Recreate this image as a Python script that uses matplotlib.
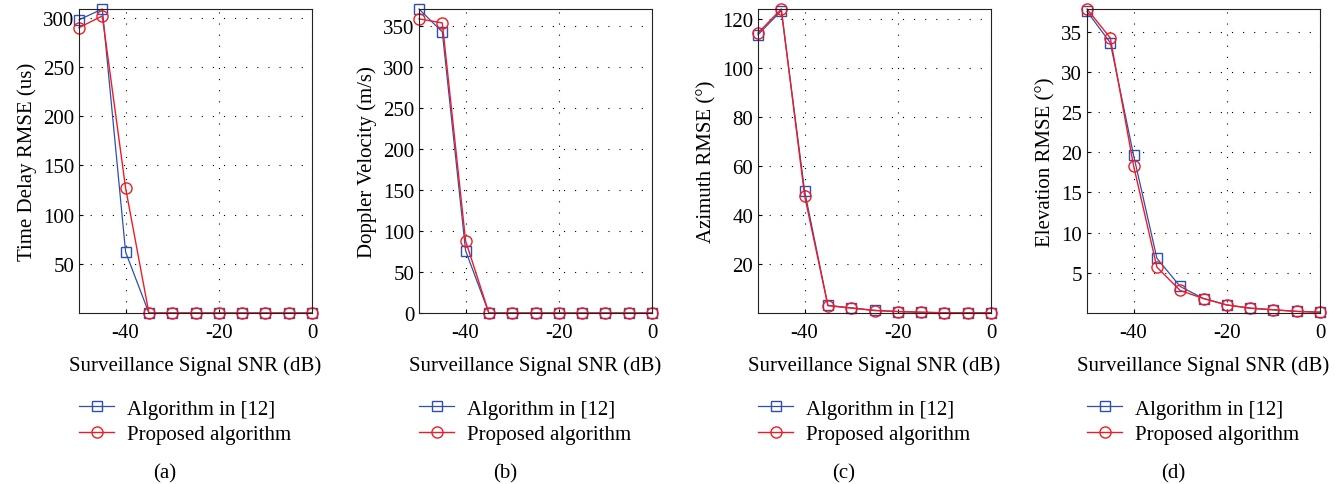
import matplotlib
matplotlib.use("Agg")
import matplotlib.pyplot as plt

plt.rcParams['font.family'] = ['Liberation Serif', 'DejaVu Serif']
plt.rcParams['font.size'] = 15
plt.rcParams['axes.unicode_minus'] = False

snr = [-50, -45, -40, -35, -30, -25, -20, -15, -10, -5, 0]

# (a) time delay RMSE
delay_ref = [298, 309, 62, 0, 0, 0, 0, 0, 0, 0, 0]
delay_prop = [290, 302, 127, 0, 0, 0, 0, 0, 0, 0, 0]
# (b) doppler velocity
dopp_ref = [371, 343, 76, 0, 0, 0, 0, 0, 0, 0, 0]
dopp_prop = [359, 354, 88, 0, 0, 0, 0, 0, 0, 0, 0]
# (c) azimuth RMSE
azi_ref = [113.5, 123.3, 49.8, 3.1, 2.1, 1.1, 0.6, 0.3, 0.1, 0.1, 0.1]
azi_prop = [114.2, 124.0, 47.8, 3.0, 2.0, 1.0, 0.6, 0.3, 0.1, 0.1, 0.1]
# (d) elevation RMSE
elev_ref = [37.5, 33.6, 19.6, 6.8, 3.3, 1.8, 1.0, 0.6, 0.4, 0.2, 0.1]
elev_prop = [37.8, 34.2, 18.3, 5.7, 2.8, 1.8, 1.0, 0.6, 0.4, 0.2, 0.1]

panels = [
    (delay_ref, delay_prop, "Time Delay RMSE (us)", (0, 309), list(range(50, 301, 50)), "(a)"),
    (dopp_ref, dopp_prop, "Doppler Velocity (m/s)", (0, 371), list(range(0, 351, 50)), "(b)"),
    (azi_ref, azi_prop, "Azimuth RMSE (°)", (0, 124), list(range(20, 121, 20)), "(c)"),
    (elev_ref, elev_prop, "Elevation RMSE (°)", (0, 37.8), list(range(5, 36, 5)), "(d)"),
]
lefts = [79, 419, 758, 1087]

W, H = 1344, 485
fig = plt.figure(figsize=(W / 100, H / 100), dpi=100)

blue = "#2f4fb0"
red = "#ee1c25"

for (ref, prop, ylab, ylim, yt, tag), left in zip(panels, lefts):
    ax = fig.add_axes([left / W, 1 - 314 / H, 233 / W, 304 / H])
    ax.plot(snr, ref, color=blue, lw=0.9, marker="s", ms=7, mfc="none", mec=blue, mew=1.0,
            label="Algorithm in [12]")
    ax.plot(snr, prop, color=red, lw=1.0, marker="o", ms=8, mfc="none", mec=red, mew=1.0,
            label="Proposed algorithm")
    ax.set_xlim(-50, 0)
    ax.set_ylim(*ylim)
    ax.set_xticks([-40, -20, 0])
    ax.set_yticks(yt)
    ax.grid(True, color="black", lw=0.8, linestyle=(0, (1, 9)))
    ax.tick_params(direction="in", length=3, width=0.8, labelsize=15)
    ax.tick_params(axis="x", pad=7)
    for s in ax.spines.values():
        s.set_linewidth(0.8)
        s.set_color("#222222")
    for c in ax.lines:
        c.set_clip_on(False)
    ax.set_xlabel("Surveillance Signal SNR (dB)", fontsize=15, labelpad=10)
    ax.set_ylabel(ylab, fontsize=15, labelpad=4)
    ax.legend(loc="upper left", bbox_to_anchor=(left / W, 1 - 400 / H),
              bbox_transform=fig.transFigure, frameon=False, borderpad=0, borderaxespad=0,
              handlelength=1.7, handletextpad=0.6, labelspacing=0.3, fontsize=15)
    fig.text((left + 86) / W, 1 - 474 / H, tag, ha="center", va="center", fontsize=15)

fig.savefig("out.png", dpi=100)
